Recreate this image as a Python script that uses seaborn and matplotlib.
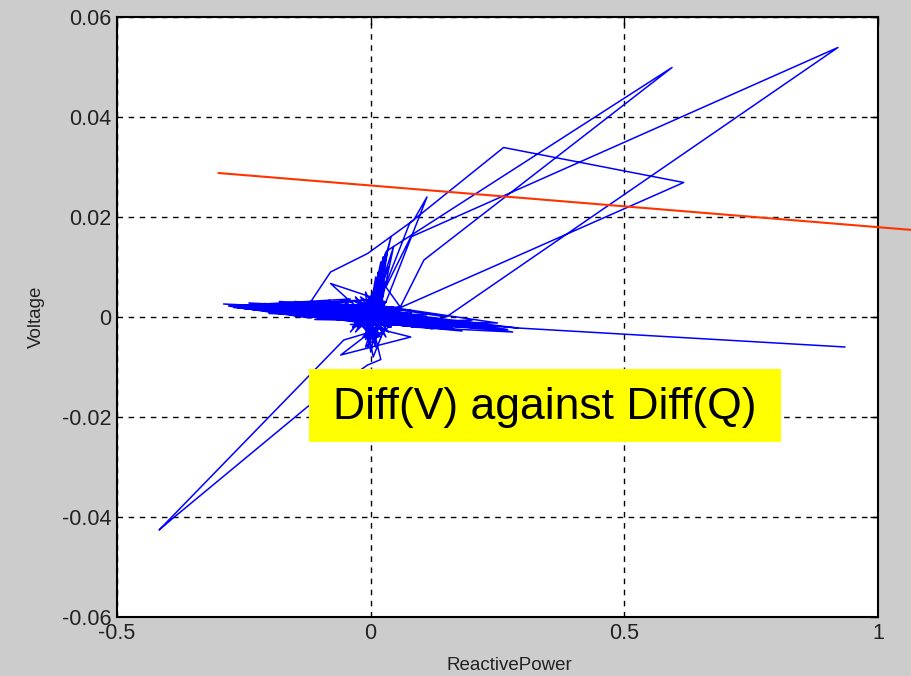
import matplotlib
matplotlib.use("Agg")
import matplotlib.pyplot as plt
from matplotlib.patches import Rectangle
import pandas as pd
import seaborn as sns

# axis ticks
x_ticks = [-0.5, 0, 0.5, 1]
x_tick_labels = ["-0.5", "0", "0.5", "1"]
y_ticks = [-0.06, -0.04, -0.02, 0, 0.02, 0.04, 0.06]
y_tick_labels = ["-0.06", "-0.04", "-0.02", "0", "0.02", "0.04", "0.06"]

# fitted trend line (Diff(V) vs Diff(Q))
fit_q = [-0.30, 1.20]
fit_v = [0.0288, 0.0163]

# trajectory of Diff(Q), Diff(V) – horizontal band around zero
band_q = [0.935, 0.29, 0.12, 0.0, -0.08, 0.05, -0.15, 0.10, -0.22, 0.02, -0.29, -0.12,
          0.06, -0.18, 0.13, -0.06, 0.20, -0.10, 0.08, -0.25, 0.0, 0.27, 0.03, -0.20,
          0.15, -0.04, 0.22, -0.14, 0.04, -0.27, 0.09, -0.07, 0.29, -0.02, 0.18, -0.16,
          0.11, -0.23, 0.07, -0.03, 0.25, -0.11, 0.01]
band_v = [-0.0060, -0.0022, -0.0008, 0.0, 0.0015, -0.0008, 0.0020, -0.0005, 0.0025, 0.0005,
          0.0026, 0.0018, -0.0012, 0.0012, -0.0015, 0.0010, -0.0020, 0.0005, 0.0008, 0.0017,
          -0.0010, -0.0025, 0.0010, 0.0008, -0.0008, -0.0015, -0.0018, 0.0028, 0.0020, 0.0020,
          -0.0020, 0.0022, -0.0022, 0.0012, -0.0028, 0.0004, 0.0004, 0.0021, -0.0018, 0.0030,
          -0.0012, -0.0005, 0.0015]

# second pass through the band, closer to zero
band2_q = [-0.19, 0.06, -0.13, 0.10, -0.21, 0.03, -0.09, 0.12, -0.17, 0.0, -0.24, 0.07,
           -0.05, 0.14, -0.20, 0.02, -0.12, 0.09, -0.26, 0.05, -0.08, 0.16, -0.15, 0.01,
           -0.22, 0.11, -0.06, 0.04, -0.18, 0.08, -0.10, 0.13, -0.03, 0.06, -0.14, 0.0]
band2_v = [0.0022, -0.0006, 0.0016, -0.0010, 0.0027, 0.0002, 0.0024, -0.0016, 0.0019, -0.0004,
           0.0023, 0.0, 0.0026, -0.0013, 0.0014, -0.0017, 0.0030, -0.0007, 0.0024, 0.0011,
           -0.0003, -0.0021, 0.0009, 0.0025, 0.0018, -0.0011, 0.0006, -0.0020, 0.0031, 0.0013,
           0.0017, -0.0004, -0.0019, 0.0020, 0.0011, -0.0010]

# back-and-forth swings on the negative side
band3_q = [-0.05, -0.22, -0.02, -0.18, 0.0, -0.27, -0.03, -0.15, 0.02, -0.24, -0.06, -0.20,
           0.01, -0.12, -0.28, -0.04, -0.16, 0.03, -0.23, -0.08, -0.19, 0.0]
band3_v = [0.0030, 0.0024, 0.0008, 0.0013, 0.0035, 0.0019, -0.0005, 0.0031, 0.0015, 0.0028,
           0.0002, 0.0007, 0.0027, -0.0002, 0.0022, 0.0036, 0.0005, 0.0010, 0.0016, 0.0033,
           0.0021, 0.0018]

# back-and-forth swings on the positive side
band4_q = [0.05, 0.18, 0.02, 0.25, 0.06, 0.14, 0.0, 0.22, 0.08, 0.28, 0.03, 0.12, 0.20, 0.04,
           0.16, 0.0]
band4_v = [0.0012, -0.0018, -0.0008, -0.0026, 0.0004, -0.0004, -0.0015, -0.0012, -0.0020,
           -0.0030, 0.0009, -0.0024, -0.0006, -0.0012, -0.0022, 0.0003]

# dense knot at the origin
blob_q = [0.0, -0.03, 0.025, -0.015, 0.03, -0.04, 0.01, -0.02, 0.035, -0.01, 0.02, -0.035,
          0.005, 0.015, -0.025, 0.0]
blob_v = [0.0, 0.004, -0.003, -0.004, 0.003, 0.001, -0.005, 0.003, -0.002, -0.006, 0.004,
          -0.002, 0.005, -0.004, -0.001, 0.002]
blob2_q = [0.01, -0.02, 0.03, -0.01, 0.0, 0.02, -0.03, 0.015, -0.005, 0.025, -0.015, 0.005,
           0.04, -0.025, 0.01, 0.0]
blob2_v = [-0.006, 0.003, -0.004, 0.005, -0.007, 0.002, -0.003, 0.004, -0.005, -0.001, 0.002,
           -0.008, 0.001, -0.002, 0.005, 0.0]
blob3_q = [-0.04, 0.03, -0.035, 0.04, -0.02, 0.035, -0.045, 0.02, -0.03, 0.045, -0.01, 0.025,
           -0.04, 0.01, 0.04, -0.025, 0.0]
blob3_v = [0.001, 0.003, -0.002, 0.0, 0.004, -0.003, 0.0025, -0.004, -0.001, 0.002, -0.0045,
           0.0045, -0.003, 0.0035, -0.002, 0.0015, 0.0]

# vertical spike just right of zero
spike_q = [0.0, 0.01, -0.01, 0.02, 0.0, 0.03, 0.005, 0.015, -0.005, 0.025, 0.0, 0.04, 0.01,
           0.035, -0.01, 0.02, 0.005, 0.045, 0.0]
spike_v = [0.0, 0.008, -0.004, 0.011, -0.002, 0.013, 0.002, 0.009, -0.006, 0.012, 0.001,
           0.016, 0.003, 0.010, 0.002, 0.006, -0.005, 0.014, 0.0]
spike2_q = [0.005, 0.02, 0.01, 0.025, 0.012, 0.03, 0.008, 0.022, 0.015, 0.028, 0.0]
spike2_v = [0.001, 0.010, 0.002, 0.012, 0.004, 0.009, 0.0, 0.011, 0.003, 0.007, -0.001]

# large excursions to the upper right
loop_q = [0.02, 0.149, 0.921, 0.079, 0.03, 0.059, 0.617, 0.262, 0.077, 0.02, 0.033, 0.594,
          0.105, 0.059, 0.0]
loop_v = [0.002, 0.0, 0.0539, 0.016, 0.006, 0.0019, 0.0269, 0.0339, 0.0188, 0.004, 0.0133,
          0.0499, 0.0114, 0.0021, 0.0]

# excursions to the upper left
left_q = [0.0, -0.125, -0.079, -0.006, 0.085, 0.111, 0.03, -0.079, -0.039, 0.0]
left_v = [0.001, 0.002, 0.009, 0.0127, 0.0194, 0.024, 0.003, 0.0067, 0.003, 0.0]

# excursions below zero and the dip to the lower left
down_q = [0.0, 0.079, -0.059, 0.0, -0.053, -0.417, -0.394, -0.125, -0.006, 0.02, 0.0]
down_v = [-0.002, -0.004, -0.0076, -0.003, -0.0046, -0.0426, -0.0406, -0.018, -0.0096,
          -0.0085, 0.0]

diff_q = (band_q + band2_q + band3_q + band4_q + blob_q + blob2_q + blob3_q
          + spike_q + spike2_q + loop_q + left_q + down_q)
diff_v = (band_v + band2_v + band3_v + band4_v + blob_v + blob2_v + blob3_v
          + spike_v + spike2_v + loop_v + left_v + down_v)
traj = pd.DataFrame({"ReactivePower": diff_q, "Voltage": diff_v})
fit = pd.DataFrame({"ReactivePower": fit_q, "Voltage": fit_v})

sns.set_style("white")
plt.rcParams["font.family"] = ["Liberation Sans", "DejaVu Sans"]

fig = plt.figure(figsize=(9.11, 6.76), dpi=100, facecolor="#cccccc")
ax = fig.add_axes([117 / 911, 1 - 617 / 676, 761 / 911, 600 / 676])
ax.set_facecolor("white")

sns.lineplot(data=traj, x="ReactivePower", y="Voltage", sort=False, estimator=None,
             color="#0000ff", linewidth=1.1, ax=ax, zorder=3)
sns.lineplot(data=fit, x="ReactivePower", y="Voltage", sort=False, estimator=None,
             color="#ff3300", linewidth=1.5, ax=ax, zorder=4)
ax.lines[-1].set_clip_on(False)

ax.set_xlim(-0.5, 1)
ax.set_ylim(-0.06, 0.06)
ax.set_xticks(x_ticks)
ax.set_xticklabels(x_tick_labels)
ax.set_yticks(y_ticks)
ax.set_yticklabels(y_tick_labels)
ax.grid(True, color="black", linestyle=(0, (4, 4)), linewidth=1.0, zorder=1)
ax.set_axisbelow(True)
ax.tick_params(direction="in", length=6, width=1, top=True, right=True,
               labelsize=15.5, colors="black", pad=4)
for label in ax.get_xticklabels() + ax.get_yticklabels():
    label.set_color("#222222")
for s in ax.spines.values():
    s.set_color("black")
    s.set_linewidth(1.5)
    s.set_visible(True)

ax.set_xlabel("ReactivePower", fontsize=13.5, color="#222222")
ax.xaxis.set_label_coords(0.515, -0.067)
ax.set_ylabel("Voltage", fontsize=13.5, labelpad=12, color="#222222")

# yellow annotation box
ax.add_patch(Rectangle((-0.122, -0.025), 0.931, 0.0146, facecolor="#ffff00",
                       edgecolor="none", zorder=6))
ax.text(0.3435, -0.0180, "Diff(V) against Diff(Q)", fontsize=32, color="black",
        ha="center", va="center", zorder=7)

fig.savefig("out.png", dpi=100, facecolor=fig.get_facecolor())
